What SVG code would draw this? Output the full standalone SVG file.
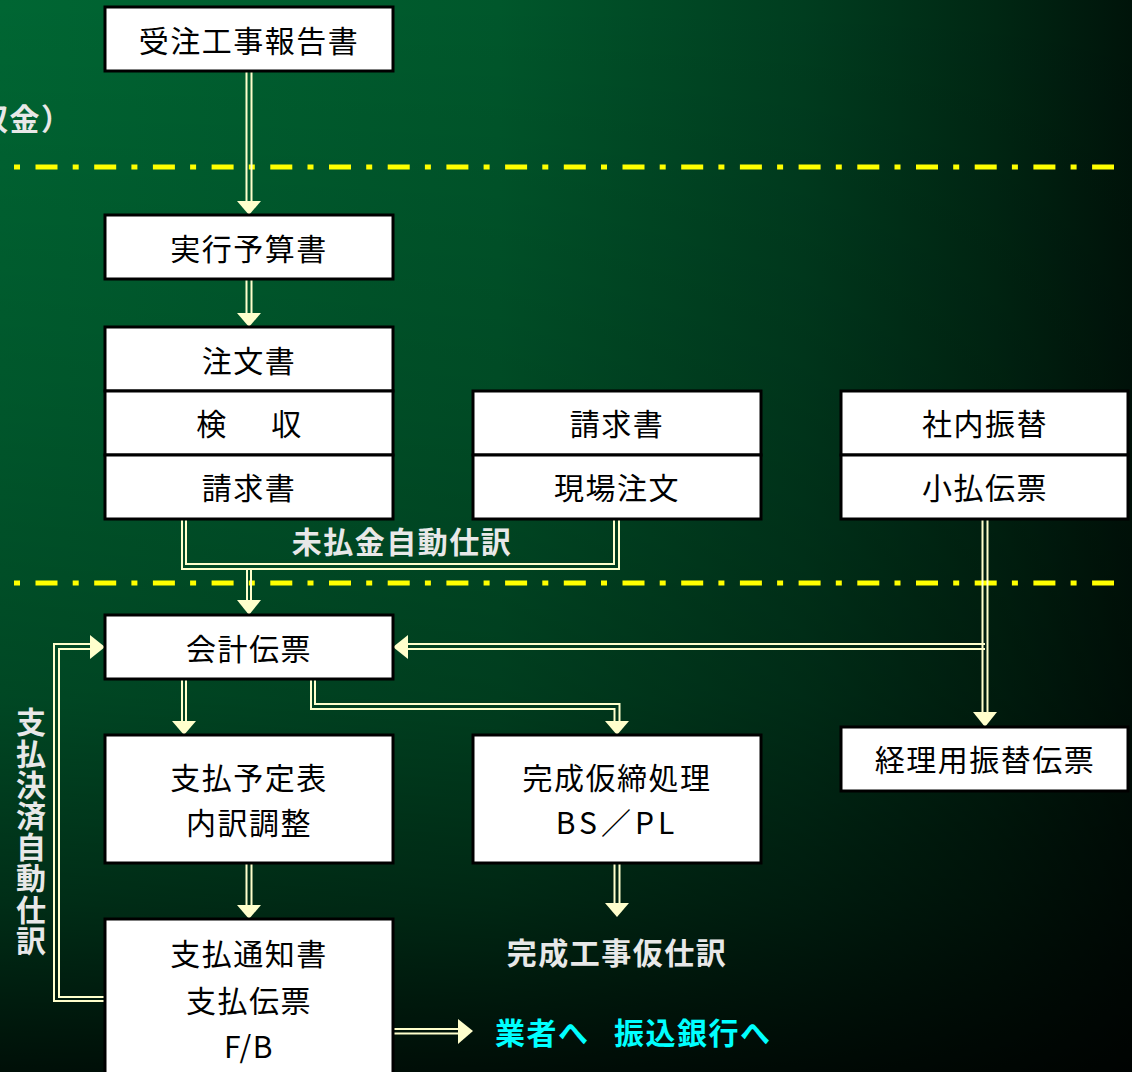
<svg xmlns="http://www.w3.org/2000/svg" width="1132" height="1072" viewBox="0 0 1132 1072">
<defs>
<linearGradient id="bgH" x1="0" y1="0" x2="1132" y2="0" gradientUnits="userSpaceOnUse">
<stop offset="0" stop-color="#006633"/>
<stop offset="0.44" stop-color="#00572b"/>
<stop offset="0.71" stop-color="#003d1f"/>
<stop offset="0.88" stop-color="#002713"/>
<stop offset="1" stop-color="#00140a"/>
</linearGradient>
<linearGradient id="bgV" x1="0" y1="0" x2="0" y2="1072" gradientUnits="userSpaceOnUse">
<stop offset="0" stop-color="#000" stop-opacity="0"/>
<stop offset="0.37" stop-color="#000" stop-opacity="0.15"/>
<stop offset="0.65" stop-color="#000" stop-opacity="0.3"/>
<stop offset="0.84" stop-color="#000" stop-opacity="0.55"/>
<stop offset="1" stop-color="#000" stop-opacity="0.85"/>
</linearGradient>
<style>
.box{fill:#fff;stroke:#000;stroke-width:3}
.t{font-family:"Noto Sans CJK JP","Noto Sans CJK SC",sans-serif;font-size:30px;fill:#000;text-anchor:middle;letter-spacing:1.5px}
.lbl{font-family:"Noto Sans CJK JP","Noto Sans CJK SC",sans-serif;font-size:30px;font-weight:bold;fill:#e8e8e8;letter-spacing:1.5px}
.cy{fill:#00ffff}
.ln{fill:none;stroke:#ffffcc;stroke-width:2}
.ah{fill:#ffffcc}
.dd{stroke:#ffff00;stroke-width:5;stroke-dasharray:6 15.5 22 15.2}
</style>
</defs>
<rect width="1132" height="1072" fill="url(#bgH)"/>
<rect width="1132" height="1072" fill="url(#bgV)"/>

<g id="separators">
<line class="dd" x1="14" y1="167" x2="1114" y2="167"/>
<line class="dd" x1="14" y1="583" x2="1114" y2="583"/>
</g>

<g id="labels">
<text class="lbl" x="-22" y="129.5">収金）</text>
<text class="lbl" x="402" y="552.5" text-anchor="middle">未払金自動仕訳</text>
<text class="lbl" x="617" y="963.5" text-anchor="middle">完成工事仮仕訳</text>
<text class="lbl cy" x="495" y="1043.5">業者へ</text>
<text class="lbl cy" x="614" y="1043.5">振込銀行へ</text>
<text class="lbl" x="31" y="707" style="writing-mode:vertical-rl;text-orientation:upright;letter-spacing:1.2px">支払決済自動仕訳</text>
</g>

<g id="connectors">
<path class="ln" d="M246.5,71V201M251.5,71V201"/>
<polygon class="ah" points="237,201 261,201 249,215"/>
<path class="ln" d="M246.5,279V313M251.5,279V313"/>
<polygon class="ah" points="237,313 261,313 249,327"/>
<path class="ln" d="M182,519V569H619V519"/>
<path class="ln" d="M186,519V564H614V519"/>
<path class="ln" d="M247,569V600M251,569V600"/>
<polygon class="ah" points="237,600 261,600 249,615"/>
<path class="ln" d="M982.5,519V712M987.5,519V712"/>
<polygon class="ah" points="973,712 997,712 985,727"/>
<path class="ln" d="M985,644H408M985,649H408"/>
<polygon class="ah" points="408,635 408,659 393,647"/>
<path class="ln" d="M182,679V721M186,679V721"/>
<polygon class="ah" points="172,721 196,721 184,735"/>
<path class="ln" d="M311,679V709H614.5V721"/>
<path class="ln" d="M315,679V704H619.5V721"/>
<polygon class="ah" points="605,721 629,721 617,735"/>
<path class="ln" d="M246.5,863V905M251.5,863V905"/>
<polygon class="ah" points="237,905 261,905 249,919"/>
<path class="ln" d="M614.5,863V903M619.5,863V903"/>
<polygon class="ah" points="605,903 629,903 617,917"/>
<path class="ln" d="M105,1001H54V644H90"/>
<path class="ln" d="M105,997H59V649H90"/>
<polygon class="ah" points="90,635 90,659 105,647"/>
<path class="ln" d="M393,1029H458M393,1033.5H458"/>
<polygon class="ah" points="458,1019 458,1044 473,1031"/>
</g>

<g id="n-report">
<rect class="box" x="105" y="7" width="288" height="64"/>
<text class="t" x="249" y="52">受注工事報告書</text>
</g>
<g id="n-budget">
<rect class="box" x="105" y="215" width="288" height="64"/>
<text class="t" x="249" y="259.5">実行予算書</text>
</g>
<g id="n-order">
<rect class="box" x="105" y="327" width="288" height="64"/>
<text class="t" x="249" y="371.5">注文書</text>
</g>
<g id="n-inspect">
<rect class="box" x="105" y="391" width="288" height="64"/>
<text class="t" y="434.5"><tspan x="212">検</tspan><tspan x="287">収</tspan></text>
</g>
<g id="n-invoice1">
<rect class="box" x="105" y="455" width="288" height="64"/>
<text class="t" x="249" y="498.5">請求書</text>
</g>
<g id="n-invoice2">
<rect class="box" x="473" y="391" width="288" height="64"/>
<text class="t" x="617" y="434.5">請求書</text>
</g>
<g id="n-siteorder">
<rect class="box" x="473" y="455" width="288" height="64"/>
<text class="t" x="617" y="498.5">現場注文</text>
</g>
<g id="n-transfer">
<rect class="box" x="841" y="391" width="287" height="64"/>
<text class="t" x="985" y="434.5">社内振替</text>
</g>
<g id="n-petty">
<rect class="box" x="841" y="455" width="287" height="64"/>
<text class="t" x="985" y="498.5">小払伝票</text>
</g>
<g id="n-accounting">
<rect class="box" x="105" y="615" width="288" height="64"/>
<text class="t" x="249" y="659.5">会計伝票</text>
</g>
<g id="n-schedule">
<rect class="box" x="105" y="735" width="288" height="128"/>
<text class="t" x="249" y="788.5">支払予定表</text>
<text class="t" x="249" y="833.5">内訳調整</text>
</g>
<g id="n-completion">
<rect class="box" x="473" y="735" width="288" height="128"/>
<text class="t" x="617" y="788.5">完成仮締処理</text>
<text class="t" x="617" y="833.5" style="letter-spacing:4px">BS／PL</text>
</g>
<g id="n-acctransfer">
<rect class="box" x="841" y="727" width="287" height="64"/>
<text class="t" x="985" y="770.5">経理用振替伝票</text>
</g>
<g id="n-notice">
<rect class="box" x="105" y="919" width="288" height="170"/>
<text class="t" x="249" y="964.5">支払通知書</text>
<text class="t" x="249" y="1011.5">支払伝票</text>
<text class="t" x="249" y="1057.5">F/B</text>
</g>
</svg>
